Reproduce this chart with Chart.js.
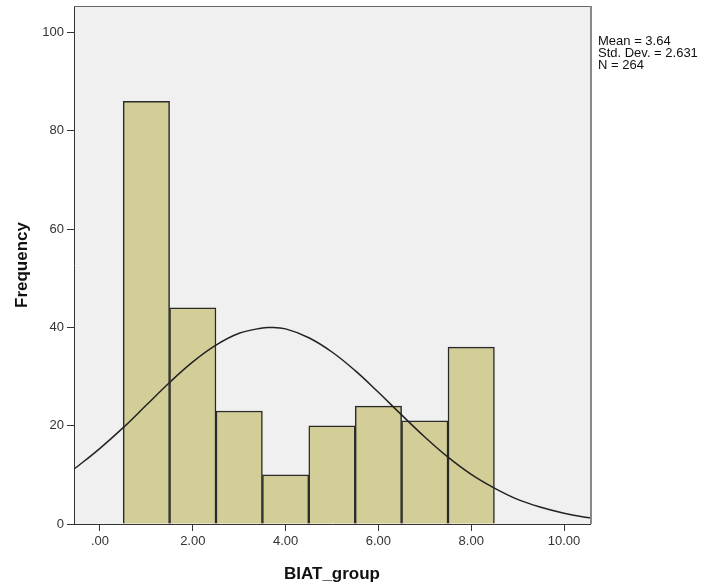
<!DOCTYPE html>
<html>
<head>
<meta charset="utf-8">
<script src="https://cdn.jsdelivr.net/npm/chart.js@4"></script>
<style>
  html, body { margin: 0; padding: 0; background: #fff; }
  #wrap { width: 704px; height: 587px; }
</style>
</head>
<body>
<div id="wrap"><canvas id="hist" width="704" height="587"></canvas></div>
<script>
// histogram bins (centre of bin) and counts
const binCentres = [1, 2, 3, 4, 5, 6, 7, 8];
const counts = [86, 44, 23, 10, 20, 24, 21, 36];

// normal curve
const curveX = [-0.56, -0.5, 0, 0.5, 1, 1.5, 2, 2.5, 3, 3.5, 3.64, 4, 4.5, 5, 5.5, 6, 6.5, 7, 7.5, 8, 8.5, 9, 9.5, 10, 10.5, 10.56];
const curveY = [11.2, 11.6, 15.4, 19.6, 24.2, 28.8, 33.0, 36.4, 38.8, 39.9, 40.0, 39.7, 37.9, 35.0, 31.2, 26.8, 22.2, 17.7, 13.6, 10.1, 7.3, 5.0, 3.4, 2.2, 1.3, 1.26];

const xTicks = [0, 2, 4, 6, 8, 10];
const xTickLabels = ['.00', '2.00', '4.00', '6.00', '8.00', '10.00'];
const yTicks = [0, 20, 40, 60, 80, 100];

const statsText = ['Mean = 3.64', 'Std. Dev. = 2.631', 'N = 264'];

const font = 'Liberation Sans, Arial, sans-serif';

const plotFrame = {
  id: 'plotFrame',
  beforeDraw(chart) {
    const a = chart.chartArea, c = chart.ctx;
    c.save();
    c.fillStyle = '#f0f0f0';
    c.fillRect(a.left, a.top, a.right - a.left, a.bottom - a.top);
    c.restore();
  },
  afterDraw(chart) {
    const a = chart.chartArea, c = chart.ctx;
    c.save();
    c.strokeStyle = '#666';
    c.lineWidth = 1;
    c.beginPath();
    c.moveTo(a.left, a.top + 0.5);
    c.lineTo(a.right, a.top + 0.5);
    c.stroke();
    c.strokeStyle = '#888';
    c.lineWidth = 2;
    c.beginPath();
    c.moveTo(a.right + 1, a.top);
    c.lineTo(a.right + 1, a.bottom);
    c.stroke();
    c.fillStyle = '#111';
    c.font = '13px ' + font;
    c.textBaseline = 'top';
    statsText.forEach((t, i) => c.fillText(t, a.right + 8, 35 + i * 12));
    c.restore();
  }
};

new Chart(document.getElementById('hist'), {
  data: {
    datasets: [
      {
        type: 'line',
        data: curveX.map((x, i) => ({x: x, y: curveY[i]})),
        borderColor: '#222',
        borderWidth: 1.5,
        pointRadius: 0,
        tension: 0.4,
        fill: false,
        order: 0
      },
      {
        type: 'bar',
        data: binCentres.map((x, i) => ({x: x, y: counts[i]})),
        backgroundColor: '#d3ce97',
        borderColor: '#2a2a2a',
        borderWidth: 1.5,
        barPercentage: 1,
        categoryPercentage: 1,
        order: 1
      }
    ]
  },
  options: {
    responsive: false,
    animation: false,
    layout: { padding: { top: 6, right: 114, left: 12, bottom: 0 } },
    plugins: { legend: { display: false }, tooltip: { enabled: false } },
    scales: {
      x: {
        type: 'linear',
        offset: false,
        min: -0.56,
        max: 10.56,
        afterBuildTicks: s => { s.ticks = xTicks.map(v => ({value: v})); },
        afterFit: s => { s.height = 63; s.paddingLeft = 0; s.paddingRight = 0; },
        ticks: {
          callback: (v) => xTickLabels[xTicks.indexOf(v)],
          color: '#333',
          font: { family: font, size: 13 },
          padding: 3,
          maxRotation: 0
        },
        grid: { offset: false, drawOnChartArea: false, tickLength: 7, color: '#333' },
        border: { color: '#333', width: 1 },
        title: {
          display: true,
          text: 'BIAT_group',
          color: '#111',
          font: { family: font, size: 17, weight: 'bold' },
          padding: { top: 0, bottom: 2 }
        }
      },
      y: {
        min: 0,
        max: 105.4,
        afterBuildTicks: s => { s.ticks = yTicks.map(v => ({value: v})); },
        afterFit: s => { s.width = 62; s.paddingTop = 0; s.paddingBottom = 0; },
        ticks: {
          color: '#333',
          font: { family: font, size: 13 },
          padding: 3
        },
        grid: { drawOnChartArea: false, tickLength: 7, color: '#333' },
        border: { color: '#333', width: 1 },
        title: {
          display: true,
          text: 'Frequency',
          color: '#111',
          font: { family: font, size: 17, weight: 'bold' },
          padding: { top: 0, bottom: 0 }
        }
      }
    }
  },
  plugins: [plotFrame]
});
</script>
</body>
</html>
